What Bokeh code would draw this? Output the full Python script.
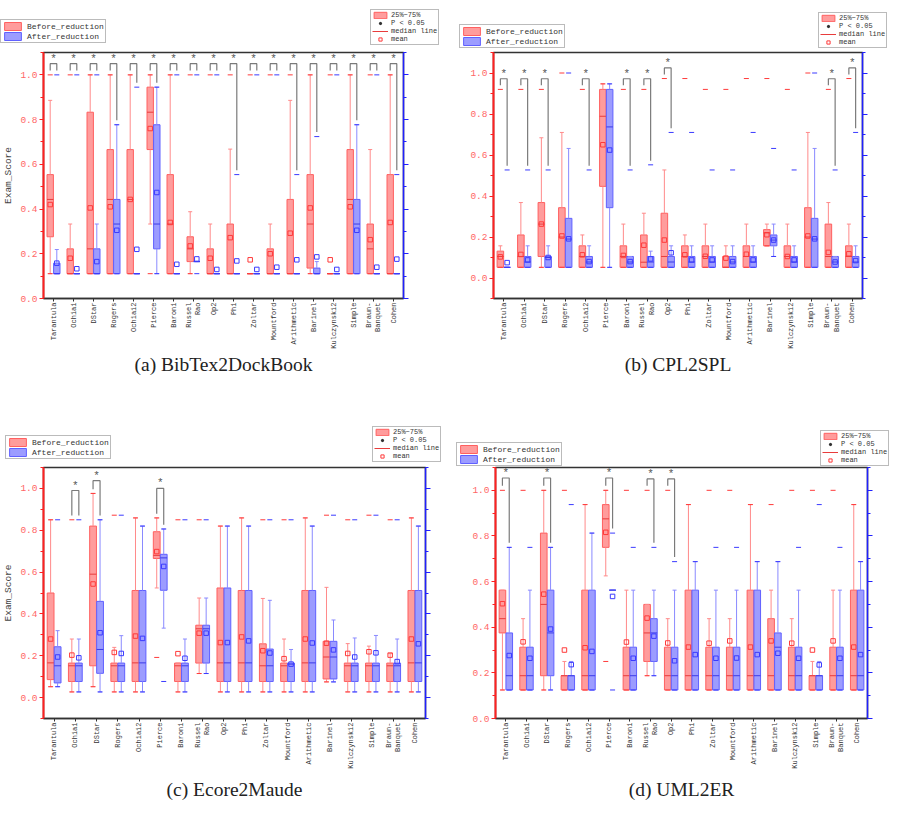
import numpy as np
from bokeh.plotting import figure
from bokeh.models import (ColumnDataSource, FixedTicker, LinearAxis, Range1d,
                          Legend, LegendItem, Title, PrintfTickFormatter,
                          CustomJSTickFormatter)
from bokeh.layouts import column, row
from bokeh.embed import file_html
from bokeh.resources import INLINE
from bokeh.core.properties import value

# ---------------------------------------------------------------- data
CATEGORIES = ["Tarantula", "Ochiai", "DStar", "Rogers", "Ochiai2", "Pierce",
              "Baroni", "Russel\nRao", "Op2", "Phi", "Zoltar", "Mountford",
              "Arithmetic", "Barinel", "Kulczynski2", "Simple",
              "Braun-\nBanquet", "Cohen"]
SERIES = ["Before_reduction", "After_reduction"]
LEGEND2 = ["25%~75%", "P < 0.05", "median line", "mean"]
Y_TICKS = [0.0, 0.2, 0.4, 0.6, 0.8, 1.0]
Y_MINOR = [-0.1, 0.1, 0.3, 0.5, 0.7, 0.9, 1.1]

# (a) BibTex2DockBook
A_BEF_WLO = [0.111, 0.111, 0.111, 0.111, 0.111, 0.333, 0.111, 0.111, 0.111, 0.111, 0.111, 0.111, 0.111, 0.111, 0.111, 0.111, 0.111, 0.111]
A_BEF_Q1 = [0.276, 0.111, 0.111, 0.111, 0.111, 0.666, 0.111, 0.165, 0.111, 0.111, 0.111, 0.111, 0.111, 0.136, 0.111, 0.111, 0.111, 0.111]
A_BEF_MED = [0.443, 0.111, 0.222, 0.443, 0.443, 0.833, 0.333, 0.222, 0.111, 0.111, 0.111, 0.111, 0.111, 0.333, 0.111, 0.443, 0.222, 0.111]
A_BEF_Q3 = [0.554, 0.222, 0.833, 0.666, 0.666, 0.945, 0.554, 0.276, 0.222, 0.333, 0.111, 0.222, 0.443, 0.554, 0.111, 0.666, 0.333, 0.554]
A_BEF_WHI = [0.886, 0.333, 1.0, 1.0, 1.0, 1.0, 1.0, 0.388, 0.333, 0.668, 0.111, 0.333, 0.886, 1.0, 0.111, 1.0, 0.666, 1.0]
A_BEF_MEAN = [0.42, 0.18, 0.405, 0.41, 0.443, 0.76, 0.34, 0.235, 0.18, 0.272, 0.173, 0.2, 0.292, 0.405, 0.173, 0.41, 0.263, 0.34]
A_BEF_PMIN = [0.111] * 18
A_BEF_PMAX = [1.0] * 18
A_AFT_WLO = [0.111, 0.111, 0.111, 0.111, 0.111, 0.111, 0.111, 0.165, 0.111, 0.111, 0.111, 0.111, 0.111, 0.111, 0.111, 0.111, 0.111, 0.111]
A_AFT_Q1 = [0.111, 0.111, 0.111, 0.111, 0.111, 0.222, 0.111, 0.165, 0.111, 0.111, 0.111, 0.111, 0.111, 0.111, 0.111, 0.111, 0.111, 0.111]
A_AFT_MED = [0.111, 0.111, 0.111, 0.333, 0.111, 0.333, 0.111, 0.165, 0.111, 0.111, 0.111, 0.111, 0.111, 0.111, 0.111, 0.333, 0.111, 0.111]
A_AFT_Q3 = [0.158, 0.111, 0.222, 0.443, 0.111, 0.777, 0.111, 0.165, 0.111, 0.111, 0.111, 0.111, 0.111, 0.136, 0.111, 0.443, 0.111, 0.111]
A_AFT_WHI = [0.219, 0.111, 0.333, 0.777, 0.111, 0.945, 0.111, 0.165, 0.111, 0.111, 0.111, 0.111, 0.111, 0.165, 0.111, 0.777, 0.111, 0.111]
A_AFT_MEAN = [0.158, 0.133, 0.165, 0.305, 0.22, 0.474, 0.153, 0.177, 0.13, 0.168, 0.13, 0.14, 0.173, 0.186, 0.13, 0.305, 0.14, 0.176]
A_AFT_PMIN = [0.111] * 18
A_AFT_PMAX = [1.0, 1.0, 1.0, 0.777, 0.945, 0.945, 1.0, 1.0, 1.0, 0.554, 1.0, 1.0, 0.554, 0.724, 1.0, 0.777, 1.0, 0.554]
A_SIG = list(range(18))
A_SIG_TOP = [1.05] * 18

# (b) CPL2SPL
B_BEF_WLO = [0.052] * 13 + [0.157] + [0.052] * 4
B_BEF_Q1 = [0.052, 0.052, 0.105, 0.052, 0.052, 0.447, 0.052, 0.052, 0.052, 0.052, 0.052, 0.052, 0.052, 0.157, 0.052, 0.052, 0.052, 0.052]
B_BEF_MED = [0.105, 0.105, 0.263, 0.2, 0.105, 0.789, 0.105, 0.077, 0.105, 0.105, 0.105, 0.052, 0.105, 0.22, 0.105, 0.2, 0.105, 0.105]
B_BEF_Q3 = [0.131, 0.21, 0.368, 0.343, 0.157, 0.92, 0.157, 0.21, 0.316, 0.157, 0.157, 0.105, 0.157, 0.236, 0.157, 0.343, 0.263, 0.157]
B_BEF_WHI = [0.157, 0.368, 0.684, 0.71, 0.21, 0.947, 0.263, 0.316, 0.527, 0.21, 0.263, 0.157, 0.263, 0.263, 0.263, 0.71, 0.368, 0.263]
B_BEF_MEAN = [0.103, 0.115, 0.263, 0.205, 0.113, 0.65, 0.11, 0.16, 0.185, 0.113, 0.106, 0.097, 0.116, 0.211, 0.105, 0.205, 0.125, 0.118]
B_BEF_PMIN = [0.052] * 13 + [0.157] + [0.052] * 4
B_BEF_PMAX = [0.92, 0.92, 0.92, 1.0, 0.92, 0.947, 0.92, 0.92, 0.973, 0.973, 0.92, 0.92, 0.973, 0.973, 0.92, 1.0, 0.92, 0.973]
B_AFT_WLO = [0.052] * 13 + [0.105] + [0.052] * 4
B_AFT_Q1 = [0.052, 0.052, 0.052, 0.052, 0.052, 0.343, 0.052, 0.052, 0.052, 0.052, 0.052, 0.052, 0.052, 0.157, 0.052, 0.052, 0.052, 0.052]
B_AFT_MED = [0.052, 0.078, 0.1, 0.19, 0.078, 0.737, 0.078, 0.078, 0.078, 0.078, 0.078, 0.078, 0.078, 0.185, 0.078, 0.19, 0.078, 0.078]
B_AFT_Q3 = [0.052, 0.105, 0.105, 0.291, 0.105, 0.92, 0.105, 0.105, 0.105, 0.105, 0.105, 0.105, 0.105, 0.21, 0.105, 0.291, 0.105, 0.105]
B_AFT_WHI = [0.052, 0.157, 0.157, 0.632, 0.157, 0.947, 0.105, 0.131, 0.157, 0.157, 0.157, 0.157, 0.157, 0.263, 0.157, 0.632, 0.105, 0.157]
B_AFT_MEAN = [0.075, 0.088, 0.1, 0.191, 0.08, 0.624, 0.08, 0.093, 0.123, 0.088, 0.088, 0.08, 0.088, 0.185, 0.088, 0.191, 0.078, 0.085]
B_AFT_PMIN = [0.052] * 13 + [0.105] + [0.052] * 4
B_AFT_PMAX = [0.527, 0.527, 0.527, 1.0, 0.527, 0.947, 0.527, 0.552, 0.71, 0.71, 0.527, 0.527, 0.71, 0.632, 0.527, 1.0, 0.527, 0.71]
B_SIG = [0, 1, 2, 4, 6, 7, 8, 16, 17]
B_SIG_TOP = [0.972, 0.972, 0.972, 0.972, 0.972, 0.972, 1.025, 0.972, 1.025]

# (c) Ecore2Maude
C_BEF_WLO = [0.052, 0.027, 0.052, 0.027, 0.027, 0.524, 0.027, 0.115, 0.027, 0.027, 0.027, 0.027, 0.027, 0.075, 0.027, 0.027, 0.027, 0.027]
C_BEF_Q1 = [0.086, 0.077, 0.152, 0.077, 0.077, 0.665, 0.077, 0.165, 0.077, 0.077, 0.077, 0.077, 0.077, 0.089, 0.077, 0.077, 0.077, 0.077]
C_BEF_MED = [0.166, 0.152, 0.59, 0.152, 0.166, 0.68, 0.152, 0.329, 0.166, 0.166, 0.152, 0.152, 0.166, 0.194, 0.152, 0.152, 0.152, 0.166]
C_BEF_Q3 = [0.5, 0.165, 0.82, 0.165, 0.512, 0.793, 0.165, 0.346, 0.524, 0.512, 0.257, 0.165, 0.512, 0.269, 0.165, 0.165, 0.165, 0.512]
C_BEF_WHI = [0.85, 0.28, 0.976, 0.24, 0.859, 0.859, 0.165, 0.476, 0.82, 0.859, 0.474, 0.28, 0.859, 0.527, 0.258, 0.246, 0.21, 0.859]
C_BEF_MEAN = [0.28, 0.203, 0.543, 0.216, 0.294, 0.698, 0.21, 0.308, 0.263, 0.29, 0.224, 0.186, 0.28, 0.26, 0.211, 0.219, 0.203, 0.28]
C_BEF_PMIN = [0.052, 0.027, 0.052, 0.027, 0.027, 0.192, 0.027, 0.115, 0.027, 0.027, 0.027, 0.027, 0.027, 0.075, 0.027, 0.027, 0.027, 0.027]
C_BEF_PMAX = [0.85, 0.85, 0.976, 0.872, 0.859, 0.859, 0.85, 0.85, 0.82, 0.859, 0.85, 0.85, 0.859, 0.872, 0.85, 0.872, 0.85, 0.859]
C_AFT_WLO = [0.052, 0.027, 0.027, 0.027, 0.027, 0.332, 0.027, 0.115, 0.027, 0.027, 0.027, 0.027, 0.027, 0.075, 0.027, 0.027, 0.027, 0.027]
C_AFT_Q1 = [0.07, 0.077, 0.116, 0.077, 0.077, 0.513, 0.077, 0.165, 0.077, 0.077, 0.077, 0.077, 0.077, 0.089, 0.077, 0.077, 0.077, 0.077]
C_AFT_MED = [0.152, 0.152, 0.23, 0.152, 0.166, 0.668, 0.152, 0.329, 0.166, 0.166, 0.152, 0.16, 0.166, 0.194, 0.152, 0.152, 0.152, 0.166]
C_AFT_Q3 = [0.243, 0.165, 0.46, 0.165, 0.512, 0.685, 0.165, 0.346, 0.524, 0.512, 0.232, 0.165, 0.512, 0.269, 0.165, 0.165, 0.165, 0.512]
C_AFT_WHI = [0.32, 0.28, 0.85, 0.296, 0.82, 0.806, 0.28, 0.476, 0.82, 0.82, 0.465, 0.23, 0.82, 0.371, 0.285, 0.297, 0.28, 0.82]
C_AFT_MEAN = [0.194, 0.19, 0.31, 0.211, 0.283, 0.627, 0.188, 0.308, 0.263, 0.271, 0.213, 0.16, 0.261, 0.228, 0.194, 0.214, 0.172, 0.257]
C_AFT_PMIN = [0.052, 0.027, 0.027, 0.027, 0.027, 0.077, 0.027, 0.115, 0.027, 0.027, 0.027, 0.027, 0.027, 0.075, 0.027, 0.027, 0.027, 0.027]
C_AFT_PMAX = [0.85, 0.85, 0.85, 0.872, 0.82, 0.806, 0.85, 0.85, 0.82, 0.82, 0.85, 0.85, 0.82, 0.872, 0.85, 0.872, 0.85, 0.82]
C_SIG = [1, 2, 5]
C_SIG_TOP = [0.99, 1.037, 1.0]

# (d) UML2ER
D_BEF_WLO = [0.125, 0.125, 0.125, 0.125, 0.125, 0.625, 0.125, 0.1875, 0.125, 0.125, 0.125, 0.125, 0.125, 0.125, 0.125, 0.125, 0.125, 0.125]
D_BEF_Q1 = [0.375, 0.125, 0.1875, 0.125, 0.125, 0.75, 0.125, 0.25, 0.125, 0.125, 0.125, 0.125, 0.125, 0.125, 0.125, 0.125, 0.125, 0.125]
D_BEF_MED = [0.4375, 0.1875, 0.5, 0.1875, 0.1875, 0.875, 0.1875, 0.375, 0.1875, 0.1875, 0.1875, 0.1875, 0.1875, 0.1875, 0.1875, 0.1875, 0.1875, 0.1875]
D_BEF_Q3 = [0.5625, 0.3125, 0.8125, 0.1875, 0.5625, 0.9375, 0.3125, 0.5, 0.3125, 0.5625, 0.3125, 0.3125, 0.5625, 0.4375, 0.3125, 0.1875, 0.3125, 0.5625]
D_BEF_WHI = [0.5625, 0.4375, 1.0, 0.25, 0.9375, 1.0, 0.5625, 0.5, 0.4375, 0.9375, 0.4375, 0.4375, 0.9375, 0.5625, 0.4375, 0.25, 0.5625, 0.9375]
D_BEF_MEAN = [0.503, 0.336, 0.545, 0.3, 0.31, 0.816, 0.335, 0.44, 0.331, 0.313, 0.33, 0.34, 0.313, 0.34, 0.33, 0.3, 0.34, 0.313]
D_BEF_PMIN = [0.125, 0.125, 0.125, 0.125, 0.125, 0.25, 0.125, 0.1875, 0.125, 0.125, 0.125, 0.125, 0.125, 0.125, 0.125, 0.125, 0.125, 0.125]
D_BEF_PMAX = [1.0, 1.0, 1.0, 1.0, 0.9375, 1.0, 1.0, 1.0, 1.0, 0.9375, 1.0, 1.0, 0.9375, 0.9375, 1.0, 1.0, 1.0, 0.9375]
D_AFT_WLO = [0.125, 0.125, 0.125, 0.125, 0.125, 0.5625, 0.125, 0.1875, 0.125, 0.125, 0.125, 0.125, 0.125, 0.125, 0.125, 0.125, 0.125, 0.125]
D_AFT_Q1 = [0.125, 0.125, 0.1875, 0.125, 0.125, 0.5625, 0.125, 0.25, 0.125, 0.125, 0.125, 0.125, 0.125, 0.125, 0.125, 0.125, 0.125, 0.125]
D_AFT_MED = [0.1875, 0.1875, 0.375, 0.1875, 0.1875, 0.5625, 0.1875, 0.375, 0.1875, 0.1875, 0.1875, 0.1875, 0.1875, 0.3125, 0.1875, 0.1875, 0.1875, 0.1875]
D_AFT_Q3 = [0.375, 0.3125, 0.5625, 0.1875, 0.5625, 0.5625, 0.3125, 0.4375, 0.3125, 0.5625, 0.3125, 0.3125, 0.5625, 0.375, 0.3125, 0.1875, 0.3125, 0.5625]
D_AFT_WHI = [0.75, 0.5625, 0.75, 0.25, 0.8125, 0.5625, 0.5625, 0.5625, 0.5625, 0.6875, 0.5625, 0.5625, 0.6875, 0.6875, 0.5625, 0.25, 0.5625, 0.6875]
D_AFT_MEAN = [0.276, 0.264, 0.392, 0.236, 0.294, 0.535, 0.264, 0.361, 0.253, 0.28, 0.264, 0.265, 0.28, 0.286, 0.264, 0.235, 0.264, 0.28]
D_AFT_PMIN = [0.125, 0.125, 0.125, 0.125, 0.125, 0.125, 0.125, 0.1875, 0.125, 0.125, 0.125, 0.125, 0.125, 0.125, 0.125, 0.125, 0.125, 0.125]
D_AFT_PMAX = [0.75, 0.75, 0.75, 0.9375, 0.8125, 0.8125, 0.75, 0.75, 0.6875, 0.6875, 0.75, 0.75, 0.6875, 0.6875, 0.75, 0.9375, 0.75, 0.6875]
D_SIG = [0, 2, 5, 7, 8]
D_SIG_TOP = [1.054, 1.054, 1.054, 1.05, 1.05]

# ---------------------------------------------------------------- styles
RED = dict(fill="#FF9C9C", line="#FF6060", med="#E83C3C", whisk="#FF8A8A", mark="#FF3A3A")
BLUE = dict(fill="#9C9CFF", line="#6060FF", med="#3C3CE8", whisk="#8A8AFF", mark="#3A3AFF")
MONO = "Liberation Mono"
OFF = 0.165
HALF = 0.16


def make_source(stats, off):
    wlo, q1, med, q3, whi, mean, pmin, pmax = stats
    x = [i + 0.5 + off for i in range(len(CATEGORIES))]
    return ColumnDataSource(dict(
        x=x, left=[v - HALF for v in x], right=[v + HALF for v in x],
        wlo=wlo, q1=q1, med=med, q3=q3, whi=whi, mean=mean, pmin=pmin, pmax=pmax))


def draw_series(p, src, c):
    p.quad(left="left", right="right", bottom="q1", top="q3", source=src,
           fill_color=c["fill"], fill_alpha=1.0, line_color=c["line"], line_width=1)
    p.segment(x0="x", x1="x", y0="q3", y1="whi", source=src, line_color=c["whisk"], line_width=1)
    p.segment(x0="x", x1="x", y0="q1", y1="wlo", source=src, line_color=c["whisk"], line_width=1)
    p.scatter(x="x", y="whi", source=src, marker="dash", size=4, line_color=c["whisk"], line_width=1)
    p.scatter(x="x", y="wlo", source=src, marker="dash", size=4, line_color=c["whisk"], line_width=1)
    p.segment(x0="left", x1="right", y0="med", y1="med", source=src,
              line_color=c["med"], line_width=1)
    p.scatter(x="x", y="pmax", source=src, marker="dash", size=5, line_color=c["mark"], line_width=1)
    p.scatter(x="x", y="pmin", source=src, marker="dash", size=5, line_color=c["mark"], line_width=1)
    p.scatter(x="x", y="mean", source=src, marker="square", size=4.5,
              line_color=c["mark"], fill_color=None, line_width=1)


def style_legend(lg):
    lg.label_text_font = MONO
    lg.label_text_color = "#333333"
    lg.border_line_color = "#777777"
    lg.border_line_width = 1
    lg.background_fill_color = "white"
    lg.background_fill_alpha = 1.0
    lg.margin = 0
    lg.spacing = 0
    lg.label_standoff = 4


def make_legend_strip(width, height, locs):
    """A frameless strip that holds the legend boxes of two panels side by side."""
    f = figure(width=width, height=height, output_backend="svg", toolbar_location=None,
               title=None, x_axis_location=None, y_axis_location=None,
               x_range=Range1d(0, 1), y_range=Range1d(0, 1),
               min_border_left=0, min_border_right=0, min_border_top=0, min_border_bottom=0)
    f.outline_line_color = None
    f.xgrid.visible = False
    f.ygrid.visible = False
    # proxies for the legend glyphs, placed outside the visible range
    rb = f.quad(left=[5], right=[6], bottom=[5], top=[6],
                fill_color=RED["fill"], line_color=RED["line"], line_width=1)
    ab = f.quad(left=[5], right=[6], bottom=[5], top=[6],
                fill_color=BLUE["fill"], line_color=BLUE["line"], line_width=1)
    star = f.scatter(x=[5], y=[5], marker="asterisk", size=7, line_color="#333333", line_width=1)
    med = f.segment(x0=[5], x1=[6], y0=[5], y1=[5], line_color=RED["med"], line_width=1)
    mean = f.scatter(x=[5], y=[5], marker="square", size=4.5, line_color=RED["mark"],
                     fill_color=None, line_width=1)

    for loc1, loc2 in locs:
        lg1 = Legend(items=[LegendItem(label=SERIES[0], renderers=[rb]),
                            LegendItem(label=SERIES[1], renderers=[ab])], location=loc1)
        style_legend(lg1)
        lg1.label_text_font_size = "8px"
        lg1.label_height = 10
        lg1.glyph_height = 10
        lg1.glyph_width = 21
        lg1.padding = 1
        f.add_layout(lg1)

        lg2 = Legend(items=[LegendItem(label=LEGEND2[0], renderers=[rb]),
                            LegendItem(label=LEGEND2[1], renderers=[star]),
                            LegendItem(label=LEGEND2[2], renderers=[med]),
                            LegendItem(label=LEGEND2[3], renderers=[mean])], location=loc2)
        style_legend(lg2)
        lg2.label_text_font_size = "7px"
        lg2.label_height = 8
        lg2.glyph_height = 8
        lg2.glyph_width = 16
        lg2.padding = 1
        lg2.label_standoff = 3
        f.add_layout(lg2)
    return f


def make_panel(bef, aft, sig_idx, sig_top, y_range, caption, ylabel, geom):
    (width, height, bl, br, bt, bb, cap_off, cap_standoff) = geom
    p = figure(width=width, height=height, output_backend="svg", toolbar_location=None,
               title=None, x_range=Range1d(0, 18), y_range=Range1d(*y_range),
               min_border_left=bl, min_border_right=br, min_border_top=bt, min_border_bottom=bb)
    p.xgrid.visible = False
    p.ygrid.visible = False
    p.outline_line_color = "#333333"
    p.outline_line_width = 1.5
    p.background_fill_color = "white"
    p.border_fill_color = "white"

    # left (red) axis
    ya = p.yaxis[0]
    ya.ticker = FixedTicker(ticks=Y_TICKS, minor_ticks=Y_MINOR)
    ya.formatter = PrintfTickFormatter(format="%.1f")
    ya.axis_line_color = "#FF2020"
    ya.axis_line_width = 2
    ya.major_tick_line_color = "#FF2020"
    ya.minor_tick_line_color = "#FF2020"
    ya.major_tick_in = 0
    ya.major_tick_out = 4
    ya.minor_tick_in = 0
    ya.minor_tick_out = 3
    ya.major_label_text_color = "#FF6666"
    ya.major_label_text_font = MONO
    ya.major_label_text_font_size = "9.5px"
    ya.major_label_standoff = 2
    if ylabel:
        ya.axis_label = ylabel
        ya.axis_label_text_font = MONO
        ya.axis_label_text_font_size = "9.5px"
        ya.axis_label_text_font_style = "normal"
        ya.axis_label_text_color = "#444444"
        ya.axis_label_standoff = 3

    # right (blue) axis without labels
    ra = LinearAxis(ticker=FixedTicker(ticks=Y_TICKS, minor_ticks=Y_MINOR),
                    formatter=CustomJSTickFormatter(code="return ''"))
    ra.axis_line_color = "#2020FF"
    ra.axis_line_width = 1.5
    ra.major_tick_line_color = "#2020FF"
    ra.minor_tick_line_color = "#2020FF"
    ra.major_tick_in = 0
    ra.major_tick_out = 5
    ra.minor_tick_in = 0
    ra.minor_tick_out = 3
    ra.major_label_standoff = 0
    p.add_layout(ra, "right")

    # bottom categorical axis
    xa = p.xaxis[0]
    xa.ticker = FixedTicker(ticks=[i + 0.5 for i in range(len(CATEGORIES))], minor_ticks=[])
    xa.major_label_overrides = {i + 0.5: name for i, name in enumerate(CATEGORIES)}
    xa.major_label_orientation = np.pi / 2
    xa.major_label_text_font = MONO
    xa.major_label_text_font_size = "7px"
    xa.major_label_text_color = "#333333"
    xa.axis_line_color = "#333333"
    xa.axis_line_width = 1.5
    xa.major_tick_line_color = "#333333"
    xa.major_tick_in = 0
    xa.major_tick_out = 3
    xa.major_label_standoff = 1

    draw_series(p, make_source(bef, -OFF), RED)
    draw_series(p, make_source(aft, OFF), BLUE)

    # significance brackets
    xs, ys, sx, sy = [], [], [], []
    for i, top in zip(sig_idx, sig_top):
        xl, xr = i + 0.5 - OFF, i + 0.5 + OFF
        lb = max(bef[4][i], bef[7][i]) + 0.02
        rb = max(aft[4][i], aft[7][i]) + 0.02
        xs.append([xl, xl, xr, xr])
        ys.append([lb, top, top, rb])
        sx.append(i + 0.5)
        sy.append(top)
    p.multi_line(xs=xs, ys=ys, line_color="#7A7A7A", line_width=1.2)
    p.text(x=sx, y=sy, text=["*"] * len(sx), text_align="center", text_baseline="middle",
           y_offset=-5, text_font=value(MONO), text_font_size="11px", text_color="#555555")

    t = Title(text=caption, align="center", text_font="Liberation Serif",
              text_font_size="19.5px", text_font_style="normal", text_color="#222222",
              offset=cap_off, standoff=cap_standoff)
    p.add_layout(t, "below")
    return p


def stats(prefix):
    g = globals()
    return [g[prefix + s] for s in ("WLO", "Q1", "MED", "Q3", "WHI", "MEAN", "PMIN", "PMAX")]


# legend strips (legend bottom-left corners relative to the strip)
top_strip = make_legend_strip(890, 48, [((0, 5), (370, 3)), ((459, 0), (818, 0))])
bot_strip = make_legend_strip(890, 46, [((5, 7), (372, 4)), ((456, 0), (820, 0))])

# geometry: width, height, border l/r/t/b, caption offset, caption standoff
# (panels of one row share their top and bottom borders)
pa = make_panel(stats("A_BEF_"), stats("A_AFT_"), A_SIG, A_SIG_TOP, (0.0, 1.1),
                "(a) BibTex2DockBook", "Exam_Score", (453, 372, 34, 50, 4, 122, 2, 0))
pb = make_panel(stats("B_BEF_"), stats("B_AFT_"), B_SIG, B_SIG_TOP, (-0.1, 1.1),
                "(b) CPL2SPL", None, (437, 372, 40, 28, 4, 122, -28, 0))
pc = make_panel(stats("C_BEF_"), stats("C_AFT_"), C_SIG, C_SIG_TOP, (-0.1, 1.1),
                "(c) Ecore2Maude", "Exam_Score", (455, 342, 34, 30, 1, 90, -17, 10))
pd = make_panel(stats("D_BEF_"), stats("D_AFT_"), D_SIG, D_SIG_TOP, (0.0, 1.1),
                "(d) UML2ER", None, (435, 342, 40, 23, 1, 90, 5, 10))

layout = column(top_strip, row(pa, pb), bot_strip, row(pc, pd))
open("out.html", "w").write(file_html(layout, INLINE))
